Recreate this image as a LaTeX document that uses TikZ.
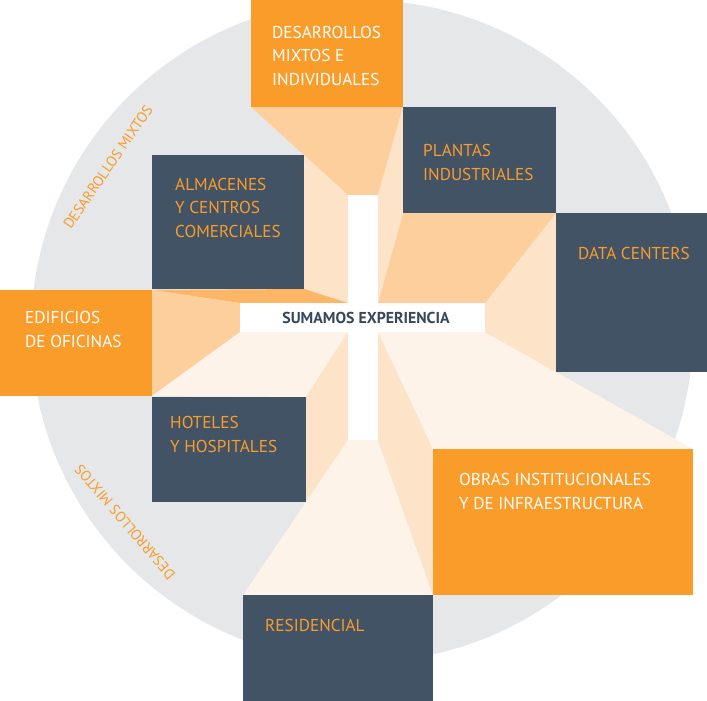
\documentclass[tikz,border=0pt]{standalone}
\usepackage{fontspec}
\setmainfont{PT Sans}
\begin{document}
\definecolor{brandorange}{HTML}{F99C2A}
\definecolor{slate}{HTML}{435366}
\definecolor{disc}{HTML}{E6E7E9}
\definecolor{facemid}{HTML}{FDCF9C}
\definecolor{facestrip}{HTML}{FDB665}
\definecolor{facelight}{HTML}{FDE3C8}
\definecolor{facevlight}{HTML}{FEF3E8}
\definecolor{titleink}{HTML}{39475A}
\begin{tikzpicture}[x=1pt,y=-1pt,
  orangebox/.style={fill=brandorange},
  slatebox/.style={fill=slate},
  % multi-line labels are placed by the baseline of their last line
  label/.style={anchor=base west,align=left,inner sep=0pt,
    font=\fontsize{17.2}{23.2}\selectfont},
  onorange/.style={label,text=white},
  onslate/.style={label,text=brandorange},
  arclabel/.style={inner sep=0pt,text=brandorange,font=\fontsize{14.6}{16}\selectfont}]
\useasboundingbox (0,0) rectangle (707,701);

% background disc
\fill[disc] (362,331) circle[radius=331];

% perspective faces between the cross and the outer boxes
\fill[facemid]    (251,107) -- (403,107) -- (378,195) -- (348,195) -- cycle;
\fill[facelight]  (304,155) -- (348,195) -- (348,303) -- (304,289) -- cycle;
\fill[facestrip]  (152,290) -- (304,289) -- (348,303) -- (240,303) -- cycle;
\fill[facemid]    (152,290) -- (240,303) -- (240,332) -- (152,396) -- cycle;
\fill[facevlight] (152,396) -- (240,332) -- (348,332) -- (306,397) -- cycle;
\fill[facelight]  (306,397) -- (348,332) -- (348,440) -- (306,502) -- cycle;
\fill[facevlight] (243,595) -- (433,595) -- (378,440) -- (348,440) -- cycle;
\fill[facelight]  (378,332) -- (378,440) -- (433,595) -- (433,449) -- cycle;
\fill[facevlight] (378,332) -- (485,332) -- (693,449) -- (433,449) -- cycle;
\fill[facelight]  (485,303) -- (556,213) -- (556,372) -- (485,332) -- cycle;
\fill[facemid]    (378,303) -- (485,303) -- (556,213) -- (403,213) -- cycle;
\fill[facelight]  (378,195) -- (403,107) -- (403,213) -- (378,303) -- cycle;

% outer boxes
\fill[orangebox] (251,0)   rectangle (403,107);
\fill[slatebox]  (403,107) rectangle (556,213);
\fill[slatebox]  (556,213) rectangle (707,372);
\fill[slatebox]  (152,155) rectangle (304,289);
\fill[orangebox] (0,290)   rectangle (152,396);
\fill[slatebox]  (152,397) rectangle (306,502);
\fill[slatebox]  (243,595) rectangle (433,701);
\fill[orangebox] (433,449) rectangle (693,595);

% central cross
\fill[white] (348,195) rectangle (378,440);
\fill[white] (240,303) rectangle (485,332);

% labels
\node[onorange] (mixtos) at (272,85) {DESARROLLOS\\MIXTOS E\\INDIVIDUALES};
\node[onslate] (plantas) at (423,180) {PLANTAS\\INDUSTRIALES};
\node[onslate] (datacenters) at (578,259) {DATA CENTERS};
\node[onslate] (almacenes) at (175,237) {ALMACENES\\Y CENTROS\\COMERCIALES};
\node[onorange] (oficinas) at (25,347) {EDIFICIOS\\DE OFICINAS};
\node[onslate] (hoteles) at (170,452) {HOTELES\\Y HOSPITALES};
\node[onslate] (residencial) at (265,631) {RESIDENCIAL};
\node[onorange] (obras) at (459,509) {OBRAS INSTITUCIONALES\\Y DE INFRAESTRUCTURA};
\node[inner sep=0pt,text=titleink,font=\fontsize{15.8}{18}\selectfont\bfseries]
  (sumamos) at (366,318) {SUMAMOS EXPERIENCIA};

% labels set along the disc
\node[arclabel,rotate=55.5] (arcupper) at (108,167) {DESARROLLOS MIXTOS};
\node[arclabel,rotate=130.5] (arclower) at (125,522) {DESARROLLOS MIXTOS};
\end{tikzpicture}
\end{document}
